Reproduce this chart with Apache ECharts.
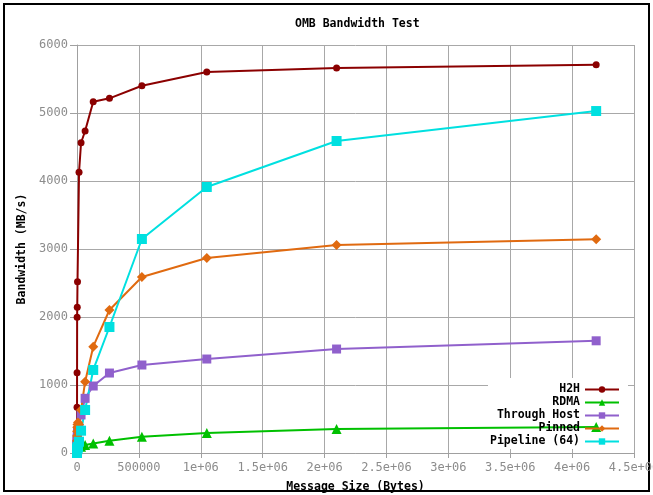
<!DOCTYPE html>
<html>
<head>
<meta charset="utf-8">
<script src="https://cdn.jsdelivr.net/npm/echarts@6/dist/echarts.min.js"></script>
<style>
  html, body { margin: 0; padding: 0; background: #fff; }
  #chart { width: 653px; height: 495px; }
</style>
</head>
<body>
<div id="chart"></div>
<script>
// message sizes in bytes (powers of two)
const sizes = [1, 2, 4, 8, 16, 32, 64, 128, 256, 512, 1024, 2048, 4096, 8192,
  16384, 32768, 65536, 131072, 262144, 524288, 1048576, 2097152, 4194304];

const h2h = [3, 6, 12, 24, 48, 95, 185, 363, 672, 1181, 1995, 2145, 2520, null,
  4128, 4563, 4735, 5166, 5216, 5400, 5603, 5662, 5710];
const rdma = [2, 4, 8, 15, 30, 55, 90, 130, 170, 200, 220, 235, 245, 250,
  240, 93, 117, 140, 181, 240, 294, 353, 382];
const throughHost = [1, 2, 4, 8, 15, 30, 55, 90, 130, 170, 210, 250, 290, 330,
  360, 560, 804, 985, 1176, 1294, 1382, 1529, 1650];
const pinned = [1, 3, 6, 12, 22, 40, 70, 120, 180, 250, 320, 380, 420, 450,
  420, 632, 1049, 1563, 2103, 2588, 2868, 3059, 3142];
const pipeline = [1, 2, 3, 5, 8, 12, 18, 25, 35, 45, 55, 65, 75, 90,
  166, 328, 632, 1221, 1853, 3147, 3912, 4588, 5029];

const xTicks = [0, 500000, 1000000, 1500000, 2000000, 2500000, 3000000,
  3500000, 4000000, 4500000];

const seriesDefs = [
  { name: 'H2H', values: h2h, color: '#8b0000', symbol: 'circle', size: 7 },
  { name: 'RDMA', values: rdma, color: '#00c000', symbol: 'triangle', size: 10 },
  { name: 'Through Host', values: throughHost, color: '#9060cc', symbol: 'rect', size: 9 },
  { name: 'Pinned', values: pinned, color: '#e06a10', symbol: 'diamond', size: 10 },
  { name: 'Pipeline (64)', values: pipeline, color: '#00e0e0', symbol: 'rect', size: 10 },
];

const mono = '"DejaVu Sans Mono", "Liberation Mono", monospace';

function fmtX(v) {
  if (v === 0) return '0';
  if (v < 1000000) return String(v);
  return (v / 1000000) + 'e+06';
}

const chart = echarts.init(document.getElementById('chart'));

chart.setOption({
  animation: false,
  backgroundColor: '#fff',
  title: {
    text: 'OMB Bandwidth Test',
    left: 295,
    top: 18,
    padding: 0,
    textStyle: { fontFamily: mono, fontSize: 11.5, fontWeight: 'bold', color: '#000' }
  },
  graphic: [{
    // outer frame
    type: 'rect',
    shape: { x: 4, y: 4, width: 645, height: 487 },
    style: { fill: 'none', stroke: '#000', lineWidth: 2 },
    silent: true
  }, {
    // opaque key box: hides the grid, series draw over it
    type: 'rect',
    z: 1,
    shape: { x: 488, y: 378, width: 140, height: 71 },
    style: { fill: '#fff' },
    silent: true
  }],
  legend: {
    orient: 'vertical',
    align: 'right',
    right: 26,
    top: 378,
    padding: [5, 7, 5, 7],
    itemWidth: 34,
    itemHeight: 8,
    itemGap: 0,
    textStyle: { fontFamily: mono, fontSize: 11.5, fontWeight: 'bold', color: '#000', lineHeight: 13 },
    data: seriesDefs.map(d => d.name)
  },
  grid: { left: 77, right: 19, top: 45, bottom: 42, outerBoundsMode: 'none', containLabel: false },
  xAxis: {
    type: 'value',
    min: 0,
    max: 4500000,
    name: 'Message Size (Bytes)',
    nameLocation: 'middle',
    nameGap: 28,
    nameTextStyle: { fontFamily: mono, fontSize: 11.5, fontWeight: 'bold', color: '#000' },
    axisLine: { show: true, lineStyle: { color: '#a0a0a0', width: 1 } },
    axisTick: { show: true, inside: false, length: 5, customValues: xTicks, lineStyle: { color: '#a0a0a0' } },
    axisLabel: { customValues: xTicks, formatter: fmtX, margin: 9, fontFamily: mono, fontSize: 12, color: '#8c8c8c' },
    splitLine: { show: true, lineStyle: { color: '#a8a8a8', width: 1 } }
  },
  yAxis: {
    type: 'value',
    min: 0,
    max: 6000,
    interval: 1000,
    name: 'Bandwidth (MB/s)',
    nameLocation: 'middle',
    nameGap: 48,
    nameTextStyle: { fontFamily: mono, fontSize: 11.5, fontWeight: 'bold', color: '#000' },
    axisLine: { show: true, lineStyle: { color: '#a0a0a0', width: 1 } },
    axisTick: { show: true, inside: false, length: 7, lineStyle: { color: '#a0a0a0' } },
    axisLabel: { formatter: v => String(v), margin: 9, fontFamily: mono, fontSize: 12, color: '#8c8c8c' },
    splitLine: { show: true, lineStyle: { color: '#a8a8a8', width: 1 } }
  },
  series: seriesDefs.map(d => ({
    name: d.name,
    type: 'line',
    data: sizes.map((s, i) => [s, d.values[i]]),
    connectNulls: true,
    symbol: d.symbol,
    symbolSize: d.size,
    showSymbol: true,
    clip: false,
    z: 3,
    itemStyle: { color: d.color },
    lineStyle: { color: d.color, width: 2 }
  }))
});

window.addEventListener('resize', () => chart.resize());
</script>
</body>
</html>
